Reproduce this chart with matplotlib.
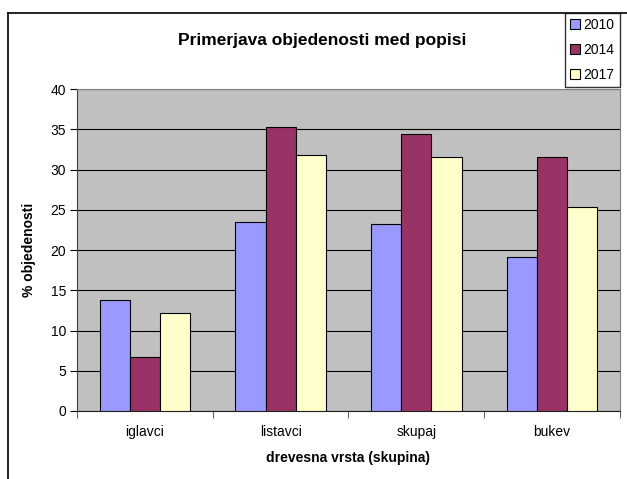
import numpy as np
import matplotlib
matplotlib.use("Agg")
import matplotlib.pyplot as plt
from matplotlib.lines import Line2D

plt.rcParams['font.family'] = ['Liberation Sans', 'DejaVu Sans']

categories = ['iglavci', 'listavci', 'skupaj', 'bukev']
years = ['2010', '2014', '2017']
v2010 = [13.8, 23.5, 23.2, 19.1]
v2014 = [6.7, 35.3, 34.4, 31.5]
v2017 = [12.2, 31.8, 31.5, 25.4]
colors = ['#9999FF', '#993366', '#FFFFCC']

W, H = 627, 479
fig = plt.figure(figsize=(W / 100, H / 100), dpi=100)
fig.set_facecolor('white')

# plot area in pixels: left 77, right 620, top 89, bottom 411
ax = fig.add_axes([77 / W, 1 - 411 / H, (620 - 77) / W, (411 - 89) / H])
ax.set_facecolor('#C0C0C0')

x = np.arange(len(categories))
bw = 1 / 4.5
for i, (vals, c, lab) in enumerate(zip([v2010, v2014, v2017], colors, years)):
    ax.bar(x + (i - 1) * bw, vals, width=bw, color=c, edgecolor='black',
           linewidth=0.8, label=lab, zorder=3)

ax.set_xlim(-0.5, 3.5)
ax.set_ylim(0, 40)
ax.set_yticks(range(0, 41, 5))
ax.yaxis.grid(True, color='black', linewidth=0.8, zorder=1)
ax.set_axisbelow(True)

ax.set_xticks(x)
ax.set_xticklabels(categories)
ax.set_xticks(np.arange(-0.5, 4, 1), minor=True)
ax.tick_params(axis='x', which='major', length=0, pad=10, labelsize=10)
ax.tick_params(axis='x', which='minor', length=5, direction='out', color='#404040')
ax.tick_params(axis='y', length=5, direction='out', labelsize=10, pad=3)

for s in ['top', 'right']:
    ax.spines[s].set_color('#808080')
ax.spines['left'].set_color('#404040')
ax.spines['bottom'].set_color('#202020')

ax.set_xlabel('drevesna vrsta (skupina)', fontsize=10, fontweight='bold', labelpad=9)
ax.set_ylabel('% objedenosti', fontsize=10, fontweight='bold', labelpad=10)

fig.text(322 / W, 1 - 40 / H, 'Primerjava objedenosti med popisi', ha='center',
         va='center', fontsize=12.5, fontweight='bold')

# outer chart border (left and top visible)
fig.add_artist(Line2D([8 / W, 8 / W], [0, 1 - 13 / H], transform=fig.transFigure,
                      color='black', linewidth=1.2))
fig.add_artist(Line2D([8 / W, 1], [1 - 13 / H, 1 - 13 / H], transform=fig.transFigure,
                      color='black', linewidth=1.2))

leg = fig.legend(loc='upper left', bbox_to_anchor=(565 / W, 1 - 13 / H),
                 frameon=True, fancybox=False, edgecolor='black', fontsize=10,
                 handlelength=0.7, handleheight=0.7, handletextpad=0.3,
                 borderpad=0.35, labelspacing=0.8, borderaxespad=0)
leg.get_frame().set_linewidth(1.0)

fig.savefig('out.png', dpi=100)
